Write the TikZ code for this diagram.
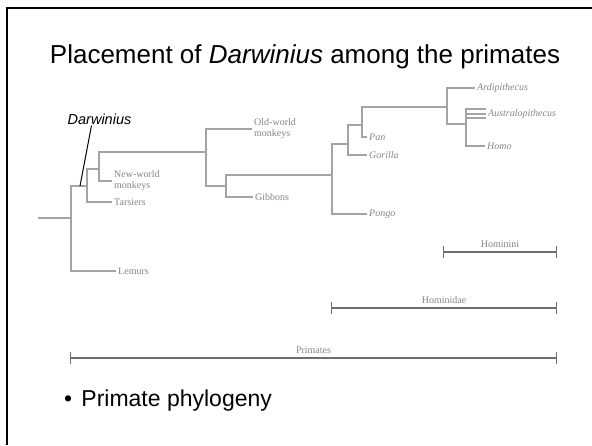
\documentclass[tikz,border=0pt]{standalone}
\usepackage{fontspec}
\setmainfont{Liberation Serif}
\setsansfont{Liberation Sans}
\usepackage{tikz}
\usetikzlibrary{arrows.meta}

\definecolor{treegray}{HTML}{A4A4A4}
\definecolor{labelgray}{HTML}{858585}
\definecolor{bargray}{HTML}{6E6E6E}

\tikzset{
	branch/.style={draw=treegray, line width=1.7pt},
	taxon/.style={anchor=west, inner sep=2pt, text=labelgray, align=left,
		font=\fontsize{10}{11}\selectfont},
	genus/.style={taxon, font=\fontsize{10}{11}\selectfont\itshape},
	rangebar/.style={draw=bargray, line width=1.3pt,
		{Bar[width=12pt,line width=1.3pt]}-{Bar[width=12pt,line width=1.3pt]}},
	rangelabel/.style={anchor=base, yshift=5pt, inner sep=0pt, text=labelgray,
		font=\fontsize{10}{11}\selectfont}
}

\begin{document}
\begin{tikzpicture}[x=1pt, y=-1pt]
	\useasboundingbox (0,0) rectangle (592,445);
	% frame of the slide
	\draw[line width=2pt] (7,445) -- (7,8) -- (592,8);
	% title and bullet
	\node[anchor=base, font=\sffamily\fontsize{26}{28}\selectfont] (title) at (305,63) {Placement of \textit{Darwinius} among the primates};
	\node[anchor=base west, inner sep=0pt, font=\sffamily\fontsize{23}{25}\selectfont] (bullet) at (64,406) {\textbullet\hspace{0.4em}Primate phylogeny};
	% inner nodes of the tree
	\coordinate (root) at (38,218);
	\coordinate (primates) at (71,218);
	\coordinate (haplo) at (87,186);
	\coordinate (anthro) at (99,169);
	\coordinate (catar) at (206,152);
	\coordinate (hominoid) at (226,186);
	\coordinate (hominid) at (332,175);
	\coordinate (hominine) at (348,144);
	\coordinate (hominini) at (362,125);
	\coordinate (hominina) at (447,107);
	\coordinate (homoaus) at (466,124);
	\coordinate (dtip) at (80,186);
	% leaves
	\node[taxon] (lemurs) at (116,271) {Lemurs};
	\node[taxon] (tarsiers) at (112,202) {Tarsiers};
	\node[taxon] (nwm) at (112,181) {New-world\\monkeys};
	\node[taxon] (owm) at (252,129) {Old-world\\monkeys};
	\node[taxon] (gibbons) at (253,197) {Gibbons};
	\node[genus] (pongo) at (367,214) {Pongo};
	\node[genus] (gorilla) at (367,155) {Gorilla};
	\node[genus] (pan) at (367,137) {Pan};
	\node[genus] (ardi) at (475,88) {Ardipithecus};
	\node[genus] (austr) at (486,114) {Australopithecus};
	\node[genus] (homo) at (485,146) {Homo};
	% branches
	\draw[branch] (root) -- (primates);
	\draw[branch] (primates) |- (lemurs.west);
	\draw[branch] (primates) |- (haplo);
	\draw[branch] (haplo) |- (tarsiers.west);
	\draw[branch] (haplo) |- (anthro);
	\draw[branch] (anthro) |- (nwm.west);
	\draw[branch] (anthro) |- (catar);
	\draw[branch] (catar) |- (owm.west);
	\draw[branch] (catar) |- (hominoid);
	\draw[branch] (hominoid) |- (gibbons.west);
	\draw[branch] (hominoid) |- (hominid);
	\draw[branch] (hominid) |- (pongo.west);
	\draw[branch] (hominid) |- (hominine);
	\draw[branch] (hominine) |- (gorilla.west);
	\draw[branch] (hominine) |- (hominini);
	\draw[branch] (hominini) |- (pan.west);
	\draw[branch] (hominini) |- (hominina);
	\draw[branch] (hominina) |- (ardi.west);
	\draw[branch] (hominina) |- (homoaus);
	\draw[branch] (homoaus) |- (homo.west);
	\draw[branch] (homoaus) |- ([yshift=5pt]austr.west);
	\draw[branch] (austr.west -| homoaus) -- (austr.west);
	\draw[branch] ([yshift=-4pt]austr.west -| homoaus) -- ([yshift=-4pt]austr.west);
	% Darwinius
	\node[font=\sffamily\itshape\fontsize{14.5}{16}\selectfont, inner sep=1pt] (darwin) at (99.5,119) {Darwinius};
	\draw[line width=1pt] (dtip) -- ([xshift=-8pt]darwin.south);
	% ranges
	\coordinate (hmL) at (443,252);
	\coordinate (hmR) at (557,252);
	\coordinate (hdL) at (331,308);
	\coordinate (hdR) at (557,308);
	\coordinate (prL) at (70,358);
	\coordinate (prR) at (557,358);
	\draw[rangebar] (hmL) -- node[rangelabel] (hmlab) {Hominini} (hmR);
	\draw[rangebar] (hdL) -- node[rangelabel] (hdlab) {Hominidae} (hdR);
	\draw[rangebar] (prL) -- node[rangelabel] (prlab) {Primates} (prR);
\end{tikzpicture}
\end{document}
